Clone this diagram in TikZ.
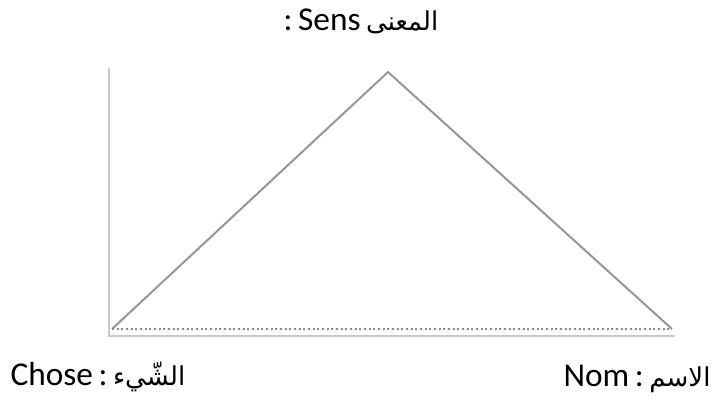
\documentclass[tikz,border=0pt]{standalone}
\usepackage{fontspec}
\setmainfont{Carlito}
\newfontfamily\arabicfont[Script=Arabic,Scale=0.78]{DejaVu Sans}
\TeXXeTstate=1
\tikzset{every picture/.style={line width=0.75pt}}
\tikzset{
  axisline/.style={color={rgb, 255:red, 200; green, 200; blue, 200}, line width=1.5pt},
  sideline/.style={color={rgb, 255:red, 150; green, 150; blue, 150}, line width=1.5pt, line join=miter},
  baseline/.style={color={rgb, 255:red, 140; green, 140; blue, 140}, line width=1.5pt, dotted},
  label/.style={inner sep=0pt, font=\fontsize{25}{30}\selectfont}
}
\begin{document}
\begin{tikzpicture}[x=0.75pt,y=0.75pt,yscale=-1,xscale=1]
\path[use as bounding box] (0,0) rectangle (713,401);

%Corners
\coordinate (top) at (388,72);
\coordinate (nom) at (672,329);
\coordinate (chose) at (112,329);
\coordinate (axtop) at (109,68);
\coordinate (axorig) at (109,336);
\coordinate (axend) at (675,336);

%Axis lines
\draw [axisline] (axtop) -- (axorig) -- (axend) ;
%Triangle sides
\draw [sideline] (chose) -- (top) -- (nom) ;
%Dotted base
\draw [baseline] (chose) -- (nom) ;

% Text Node
\node (sens) [label, anchor=base] at (361,30) {:\,Sens\,{\arabicfont\beginR المعنى\endR}};
% Text Node
\node (chosetxt) [label, anchor=base west] at (10,385) {Chose\,:\,{\arabicfont\beginR الشّيء\endR}};
% Text Node
\node (nomtxt) [label, anchor=base east] at (711,386) {Nom\,:\,{\arabicfont\beginR الاسم\endR}};

\end{tikzpicture}
\end{document}
